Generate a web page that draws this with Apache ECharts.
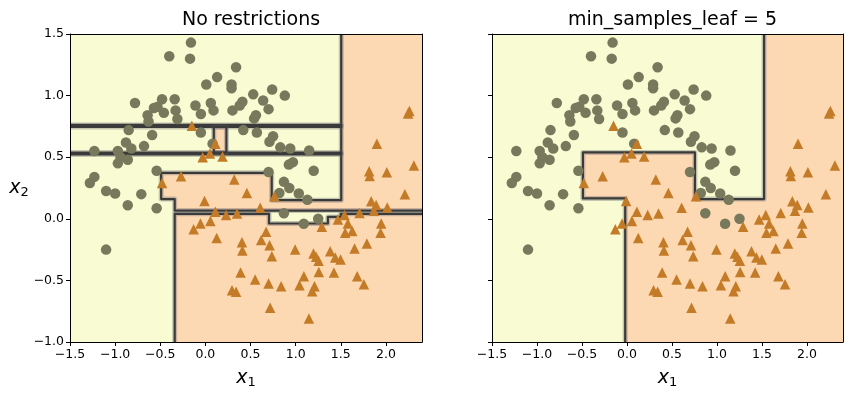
<!DOCTYPE html>
<html><head><meta charset="utf-8">
<script src="https://cdn.jsdelivr.net/npm/echarts@6/dist/echarts.min.js"></script>
<style>html,body{margin:0;padding:0;background:#fff}#c{width:854px;height:399px}</style>
</head><body><div id="c"></div>
<script>
// ---- data ----
const circleX = [-0.16,-0.40,-0.17,0.34,0.13,0.01,0.29,0.29,-0.78,-0.48,-0.34,-0.57,-0.53,-0.46,-0.64,-0.63,-0.33,-0.31,-0.11,0.06,0.09,-0.05,0.30,0.38,0.41,0.42,-0.85,-0.59,-0.05,-0.88,-0.82,-0.68,-1.23,-0.97,-0.94,-0.86,-0.97,0.08,-0.54,0.74,0.53,0.88,0.64,0.70,0.56,0.54,0.57,0.75,0.71,0.83,0.94,1.15,0.97,0.925,1.20,0.70,-1.23,-1.28,-1.10,-1.00,-0.71,-0.86,-0.54,-1.10,0.87,0.93,0.82,1.035,1.13,0.87,1.09,1.25];
const circleY = [1.43,1.32,1.30,1.23,1.15,1.09,1.09,1.06,0.94,0.97,0.97,0.90,0.91,0.86,0.84,0.79,0.88,0.81,0.92,0.94,0.88,0.85,0.88,0.92,0.95,0.72,0.72,0.68,0.70,0.62,0.57,0.59,0.55,0.55,0.50,0.48,0.45,0.61,0.39,1.05,1.01,1.00,0.96,0.89,0.84,0.815,0.70,0.67,0.625,0.58,0.57,0.555,0.46,0.44,0.39,0.38,0.34,0.29,0.225,0.205,0.20,0.11,0.085,-0.25,0.30,0.25,0.21,0.205,0.155,0.045,-0.04,0.0];
const triangleX = [-0.15,0.11,-0.03,0.05,0.19,2.26,2.245,1.90,-0.27,-0.48,0.32,0.46,-0.01,0.11,0.23,0.35,0.055,-0.055,-0.13,0.125,0.405,0.41,0.39,0.295,0.34,1.815,1.82,2.01,2.31,2.21,0.766,0.607,1.837,1.892,1.867,2.015,1.708,1.542,1.468,1.579,1.627,1.549,1.948,1.941,1.290,0.673,0.618,0.711,0.736,0.994,1.198,1.227,1.254,1.383,1.438,1.498,1.653,1.789,1.257,1.424,1.091,1.043,1.209,1.183,0.551,0.700,0.839,1.682,1.756,0.717,1.147];
const triangleY = [0.755,0.61,0.50,0.53,0.505,0.875,0.855,0.61,0.345,0.29,0.32,0.21,0.145,0.057,0.03,0.043,-0.017,-0.038,-0.084,-0.155,-0.19,-0.258,-0.436,-0.58,-0.593,0.385,0.347,0.378,0.433,0.199,0.184,0.089,0.143,0.111,0.065,0.092,0.048,0.030,-0.005,-0.038,-0.100,-0.114,-0.038,-0.114,-0.065,-0.106,-0.173,-0.214,-0.303,-0.249,-0.282,-0.309,-0.341,-0.263,-0.314,-0.330,-0.241,-0.200,-0.431,-0.436,-0.466,-0.539,-0.547,-0.588,-0.493,-0.525,-0.547,-0.466,-0.531,-0.723,-0.81];
const xTicks = [-1.5,-1.0,-0.5,0.0,0.5,1.0,1.5,2.0];
const yTicks = [-1.0,-0.5,0.0,0.5,1.0,1.5];
const titles = ['No restrictions', 'min_samples_leaf = 5'];
// class-1 (peach) decision regions, polygons in data units (outer vertices run past the axes and are clipped)
const leftRegion1 = [[1.505,1.7],[1.505,0.151],[0.735,0.151],[0.735,0.373],[-0.49,0.373],[-0.49,0.16],[-0.34,0.16],[-0.34,0.067],[2.6,0.067],[2.6,1.7]];
const leftRegion2 = [[-0.34,-1.2],[-0.34,0.04],[0.705,0.04],[0.705,-0.038],[1.357,-0.038],[1.357,0.015],[1.5,0.015],[1.5,0.04],[2.6,0.04],[2.6,-1.2]];
const leftStrip1 = [[-1.7,0.746],[1.505,0.746],[1.505,0.762],[-1.7,0.762]];
const leftStrip2 = [[-1.7,0.522],[1.505,0.522],[1.505,0.538],[-1.7,0.538]];
const leftNotch = [[0.093,0.538],[0.233,0.538],[0.233,0.746],[0.093,0.746]];
const rightRegion = [[1.523,1.7],[1.523,0.16],[0.755,0.16],[0.755,0.539],[-0.49,0.539],[-0.49,0.165],[-0.02,0.165],[-0.02,-1.2],[2.6,-1.2],[2.6,1.7]];

// ---- chart ----
const FONT = 'DejaVu Sans';
const YELLOW = '#f9fbd2', PEACH = '#fdd9b3';
const C0 = '#78785c', C1 = '#c47b27';
const leftRegions = [leftRegion1, leftRegion2, leftStrip1, leftStrip2, leftNotch];
const rightRegions = [rightRegion];
const fmt = v => (v < 0 ? '\u2212' : '') + Math.abs(v).toFixed(1);

const grids = [
  {left: 70, top: 34, width: 352, height: 308},
  {left: 492, top: 34, width: 351, height: 308}
];
const xAxes = [], yAxes = [];
grids.forEach((g, gi) => {
  xAxes.push({
    type: 'value', gridIndex: gi, min: -1.5, max: 2.4, position: 'bottom', z: 10,
    axisLine: {show: true, onZero: false, lineStyle: {color: '#000', width: 1}},
    axisTick: {show: true, length: 4, customValues: xTicks, lineStyle: {color: '#000'}},
    axisLabel: {customValues: xTicks, formatter: fmt, color: '#000', fontFamily: FONT, fontSize: 12.5, margin: 6},
    splitLine: {show: false},
    name: '{i|x}{s|1}', nameLocation: 'middle', nameGap: 25,
    nameTextStyle: {rich: {
      i: {fontFamily: FONT, fontStyle: 'italic', fontSize: 19, color: '#000', lineHeight: 22},
      s: {fontFamily: FONT, fontSize: 13, color: '#000', lineHeight: 22, verticalAlign: 'bottom', padding: [10, 0, 0, 0]}
    }}
  });
  xAxes.push({
    type: 'value', gridIndex: gi, min: -1.5, max: 2.4, position: 'top', z: 10,
    axisLine: {show: true, onZero: false, lineStyle: {color: '#000', width: 1}},
    axisTick: {show: false}, axisLabel: {show: false}, splitLine: {show: false}
  });
  yAxes.push({
    type: 'value', gridIndex: gi, min: -1.0, max: 1.5, position: 'left', z: 10,
    axisLine: {show: true, onZero: false, lineStyle: {color: '#000', width: 1}},
    axisTick: {show: true, length: 4, customValues: yTicks, lineStyle: {color: '#000'}},
    axisLabel: {show: gi === 0, customValues: yTicks, formatter: fmt, color: '#000', fontFamily: FONT, fontSize: 12.5, margin: 6},
    splitLine: {show: false},
    name: gi === 0 ? '{i|x}{s|2}' : '', nameLocation: 'middle', nameRotate: 0, nameGap: 40,
    nameTextStyle: {rich: {
      i: {fontFamily: FONT, fontStyle: 'italic', fontSize: 19, color: '#000', lineHeight: 22},
      s: {fontFamily: FONT, fontSize: 13, color: '#000', lineHeight: 22, verticalAlign: 'bottom', padding: [10, 0, 0, 0]}
    }}
  });
  yAxes.push({
    type: 'value', gridIndex: gi, min: -1.0, max: 1.5, position: 'right', z: 10,
    axisLine: {show: true, onZero: false, lineStyle: {color: '#000', width: 1}},
    axisTick: {show: false}, axisLabel: {show: false}, splitLine: {show: false}
  });
});

function fillSeries(regions, ai) {
  return {
    type: 'custom', xAxisIndex: ai, yAxisIndex: ai, clip: true, z: 1, silent: true,
    data: regions.map((_, i) => [0, 0, i]),
    renderItem: (params, api) => ({
      type: 'polygon',
      shape: {points: regions[params.dataIndex].map(p => api.coord(p))},
      style: {fill: PEACH, stroke: null}
    })
  };
}
function lineSeries(regions, ai) {
  return {
    type: 'custom', xAxisIndex: ai, yAxisIndex: ai, clip: true, z: 2, silent: true,
    data: regions.map((_, i) => [0, 0, i]),
    renderItem: (params, api) => {
      const pts = regions[params.dataIndex].map(p => api.coord(p));
      return {type: 'group', children: [
        {type: 'polygon', shape: {points: pts}, style: {fill: null, stroke: 'rgba(95,95,110,0.33)', lineWidth: 5, lineJoin: 'round'}},
        {type: 'polygon', shape: {points: pts}, style: {fill: null, stroke: '#3a3a3a', lineWidth: 2.2, lineJoin: 'round'}}
      ]};
    }
  };
}
function scatterSeries(xs, ys, ai, symbol, color, size) {
  return {
    type: 'scatter', xAxisIndex: ai * 2, yAxisIndex: ai * 2, symbol: symbol, symbolSize: size, z: 5, silent: true,
    itemStyle: {color: color, opacity: 1},
    data: xs.map((x, i) => [x, ys[i]])
  };
}

const series = [];
[leftRegions, rightRegions].forEach((regs, gi) => {
  series.push(fillSeries(regs, gi * 2));
  series.push(lineSeries(regs, gi * 2));
  series.push(scatterSeries(circleX, circleY, gi, 'circle', C0, 10.5));
  series.push(scatterSeries(triangleX, triangleY, gi, 'triangle', C1, 10.5));
});

const chart = echarts.init(document.getElementById('c'), null, {renderer: 'canvas'});
chart.setOption({
  animation: false,
  backgroundColor: '#fff',
  title: titles.map((t, i) => ({
    text: t, left: grids[i].left + grids[i].width / 2, top: 6, textAlign: 'center',
    textStyle: {fontFamily: FONT, fontWeight: 'normal', fontSize: 19, color: '#000'}
  })),
  grid: grids.map(g => Object.assign({show: true, backgroundColor: YELLOW, borderWidth: 0}, g)),
  xAxis: xAxes,
  yAxis: yAxes,
  series: series
});
</script></body></html>
